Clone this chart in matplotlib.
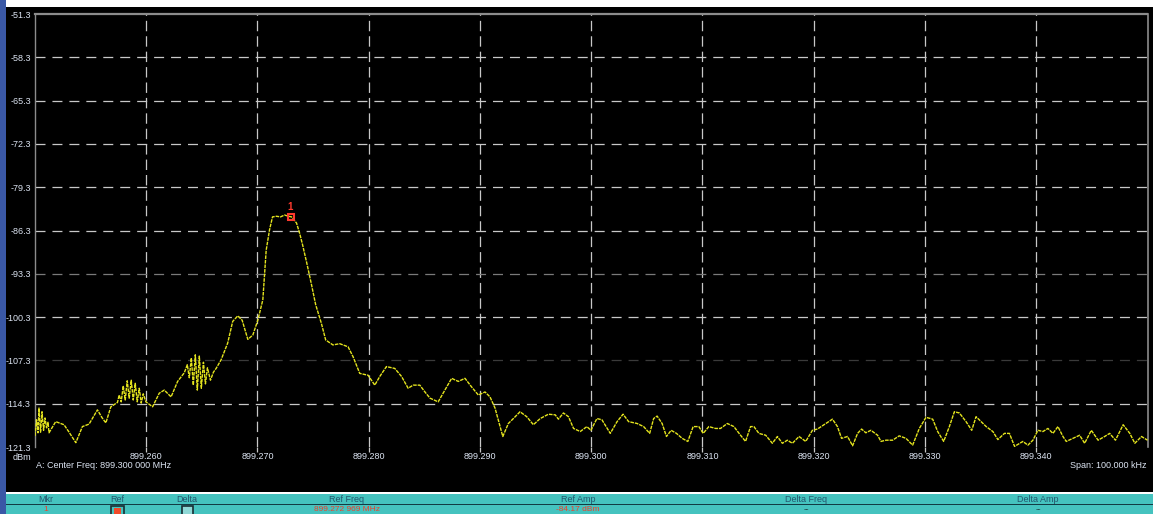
"""Spectrum analyser trace, redrawn from a screen capture."""

import matplotlib
matplotlib.use("Agg")
import matplotlib.pyplot as plt
from matplotlib.patches import Rectangle

W, H = 1153, 514

# trace: offset from the start frequency (kHz) and level (dBm)
START_MHZ = 899.250
SPAN_KHZ = 100.0
offset_khz = [
    0.00, 0.14, 0.27, 0.36, 0.50, 0.63, 0.77, 0.90, 1.04, 1.17, 1.26,
    1.86, 2.61, 3.06, 3.67, 4.26, 4.86, 5.61, 6.04, 6.37, 6.82, 7.41,
    7.57, 7.75, 7.93, 8.11, 8.29, 8.47, 8.65, 8.83, 9.01, 9.19, 9.37, 9.55, 9.73, 9.97,
    10.27, 10.57, 11.17, 11.62, 12.23, 12.82, 13.42,
    13.69, 13.87, 14.05, 14.23, 14.41, 14.59, 14.77, 14.95, 15.14, 15.32, 15.50, 15.77, 16.04,
    16.28, 16.73, 17.32, 17.77, 18.23, 18.62, 19.13, 19.58, 20.03, 20.48,
    20.78, 21.08, 21.35, 21.71, 22.07, 22.43, 22.79, 23.06, 23.51, 23.78, 24.05,
    24.41, 24.86, 25.23, 25.74, 26.13,
    26.78, 27.39, 28.14, 28.59, 29.19, 29.94, 30.54, 30.99, 31.59, 32.34, 32.95, 33.54, 33.99,
    34.59, 35.05, 35.50, 36.24, 36.85, 37.45, 38.05, 38.65, 39.25, 39.85, 40.45, 40.90, 41.35,
    42.05, 42.55, 43.00, 43.60, 44.20, 44.80, 45.41, 46.15, 46.76, 47.05,
    47.50, 47.95, 48.41, 49.01, 49.61, 49.97, 50.51, 50.96, 51.71, 52.32,
    52.86, 53.36, 54.12, 54.71, 55.25, 55.61, 55.92, 56.37, 56.76, 57.18,
    57.66, 58.17, 58.68, 59.16, 59.67, 60.06, 60.57, 61.17, 61.62, 62.23,
    62.82, 63.42, 63.87, 64.32, 64.62, 65.07, 65.68, 66.28, 66.73, 67.18,
    67.63, 68.08, 68.68, 69.28, 69.88, 70.33,
    71.08, 71.68, 72.13, 72.50, 73.04, 73.49, 73.94, 74.30, 74.68, 75.14,
    75.74, 76.04, 76.49, 77.09, 77.68, 78.29, 78.89, 79.49, 80.09, 80.69,
    81.14, 81.68, 82.19, 82.64, 83.09, 83.69, 84.20, 84.59, 85.05, 85.50,
    86.10, 86.55, 87.14, 87.59, 88.05, 88.80, 89.25, 89.70, 90.15, 90.60,
    91.05, 91.50, 91.95, 92.40, 92.70, 93.31, 93.90, 94.35, 94.95, 95.56,
    96.15, 96.60, 97.12, 97.81, 98.41, 98.86, 99.46, 100.00,
]
level_dbm = [
    -119.5, -116.9, -119.0, -115.0, -118.9, -115.6, -118.6, -116.6, -118.2, -117.3, -119.0,
    -117.2, -117.7, -118.9, -120.6, -118.0, -117.6, -115.3, -116.6, -117.4, -114.8, -114.1,
    -112.9, -114.0, -111.4, -113.7, -110.6, -113.4, -110.5, -113.7, -111.0, -114.0, -111.8, -114.2, -112.7, -114.0,
    -114.4, -114.8, -112.6, -112.1, -113.2, -110.7, -109.3,
    -108.0, -110.1, -106.9, -111.3, -106.4, -112.1, -106.6, -111.8, -107.6, -111.1, -108.5, -110.5, -109.2,
    -108.6, -107.2, -104.5, -101.0, -100.1, -100.8, -103.9, -103.2, -100.8, -97.5,
    -89.5, -86.2, -84.1, -84.0, -84.1, -83.8, -84.0, -84.1, -85.1, -86.7, -88.6,
    -91.4, -95.1, -98.3, -101.3, -104.0,
    -104.8, -104.6, -105.1, -106.7, -109.4, -109.7, -111.3, -109.9, -108.3, -108.6, -109.9, -111.8, -111.3,
    -111.3, -112.4, -113.4, -114.0, -112.1, -110.2, -110.7, -110.2, -111.6, -112.9, -112.4, -113.2, -115.0,
    -119.6, -117.5, -116.7, -115.6, -116.4, -117.7, -116.7, -116.0, -116.1, -116.8,
    -115.8, -116.4, -118.3, -118.8, -118.0, -118.6, -116.7, -116.9, -119.1, -117.2,
    -116.0, -117.2, -117.5, -118.0, -119.1, -116.7, -116.3, -117.5, -119.6, -118.6,
    -119.1, -119.9, -120.4, -118.0, -118.0, -119.1, -118.0, -118.3, -118.3, -117.5,
    -118.0, -119.4, -120.4, -118.0, -118.0, -119.1, -119.4, -120.7, -119.6, -120.7,
    -120.2, -120.7, -119.6, -120.4, -118.6, -118.4,
    -117.5, -116.8, -118.0, -119.9, -119.6, -121.1, -119.1, -118.4, -119.0, -118.6,
    -119.4, -120.4, -120.2, -120.2, -119.5, -119.9, -121.0, -118.3, -116.5, -116.8,
    -118.8, -120.4, -118.0, -115.6, -115.8, -117.2, -118.6, -116.4, -117.2, -118.0,
    -118.8, -120.1, -119.1, -119.1, -121.2, -120.4, -121.0, -120.2, -118.6, -118.8,
    -118.3, -119.1, -118.0, -119.6, -120.4, -119.9, -119.4, -120.7, -118.6, -120.2,
    -119.6, -119.1, -120.2, -117.7, -119.1, -120.7, -119.6, -120.2,
]

marker_mhz = 899.272969
marker_dbm = -84.17

freq_ticks = [899.260, 899.270, 899.280, 899.290, 899.300, 899.310, 899.320, 899.330, 899.340]
amp_ticks = [-51.3, -58.3, -65.3, -72.3, -79.3, -86.3, -93.3, -100.3, -107.3, -114.3, -121.3]
center_text = "A: Center Freq: 899.300 000 MHz"
span_text = "Span: 100.000 kHz"
table_headers = ["Mkr", "Ref", "Delta", "Ref Freq", "Ref Amp", "Delta Freq", "Delta Amp"]
marker_row = ["1", "", "", "899.272 969 MHz", "-84.17 dBm", "--", "--"]

plt.rcParams["font.family"] = ["Liberation Sans", "DejaVu Sans"]
plt.rcParams["lines.scale_dashes"] = False

fig = plt.figure(figsize=(W / 100, H / 100), dpi=100, facecolor="white")


def box(x0, y0, x1, y1, face, edge="none", lw=0.0, z=-5):
    fig.add_artist(Rectangle((x0 / W, 1 - y1 / H), (x1 - x0) / W, (y1 - y0) / H,
                             transform=fig.transFigure, facecolor=face,
                             edgecolor=edge, linewidth=lw, zorder=z))


def label(x, y, s, **kw):
    kw.setdefault("va", "center")
    kw.setdefault("fontsize", 6.5)
    fig.text(x / W, 1 - y / H, s, **kw)


# screen background pieces
box(6, 7, W, 491.5, "black")
box(6, 494, W, H, "#45C3BF")
box(6, 504, W, 505.4, "#123C44")
box(0, 0, 6, H, "#3A58A6")

ax = fig.add_axes([35 / W, 1 - 447 / H, (1147.5 - 35) / W, (447 - 14) / H])
ax.set_facecolor("black")
ax.set_xlim(START_MHZ, START_MHZ + SPAN_KHZ / 1000)
ax.set_ylim(amp_ticks[-1], amp_ticks[0])

for side, lw in [("top", 1.6), ("left", 1.0), ("right", 1.2)]:
    ax.spines[side].set_color("#8C8C8C")
    ax.spines[side].set_linewidth(lw)
ax.spines["bottom"].set_visible(False)

# graticule
for f in freq_ticks:
    ax.axvline(f, color="#C8C8C8", lw=0.9, dashes=(7.5, 3.6), zorder=1)
dim = {-93.3: "#7A7A7A", -107.3: "#3A3A3A"}
for a in amp_ticks[1:-1]:
    ax.axhline(a, color=dim.get(a, "#C8C8C8"), lw=0.9, dashes=(7.2, 5.0), zorder=1)

ax.set_xticks(freq_ticks, labels=[f"{f:.3f}" for f in freq_ticks])
ax.set_yticks(amp_ticks, labels=[f"{a:.1f}" for a in amp_ticks])
ax.tick_params(axis="x", length=3.6, width=0.9, color="#C8C8C8", pad=0,
               labelsize=6.5, labelcolor="#DCE4F2")
ax.tick_params(axis="y", length=0, pad=3, labelsize=6.5, labelcolor="#DCE4F2")

freqs = [START_MHZ + k / 1000 for k in offset_khz]
ax.plot(freqs, level_dbm, color="#E4E41E", lw=1.0, dashes=(2.6, 0.7), zorder=3)

ax.plot(marker_mhz, marker_dbm, marker="s", ms=4.5, mfc="none", mec="#FF3A2E", mew=1.5, zorder=4)
ax.annotate("1", (marker_mhz, marker_dbm), xytext=(0, 7.5), textcoords="offset points",
            ha="center", va="center", fontsize=7, fontweight="bold", color="#FF3A2E", zorder=4)

label(31, 457, "dBm", ha="right", color="#DCE4F2")
label(36, 465, center_text, ha="left", color="#DCE4F2")
label(1146, 465, span_text, ha="right", color="#DCE4F2")

# marker table
col_x = [46, 117, 187, 347, 578, 806, 1038]
for x, head in zip(col_x, table_headers):
    label(x, 499.5, head, ha="center", color="#24566E")
box(110.5, 505.8, 123.5, 516, "#45C3BF", edge="#1A2E33", lw=1.2, z=-4)
box(113.5, 508, 120.5, 516, "#F04A2A", z=-3)
box(181.5, 505.8, 192.5, 516, "#8FD8D6", edge="#1A2E33", lw=1.2, z=-4)
for x, val in zip(col_x, marker_row):
    if not val:
        continue
    color = "#1A2E33" if val == "--" else "#F0402A"
    label(x, 509.8, val, ha="center", fontsize=6, color=color)

fig.savefig("out.png", dpi=100, facecolor="white")
